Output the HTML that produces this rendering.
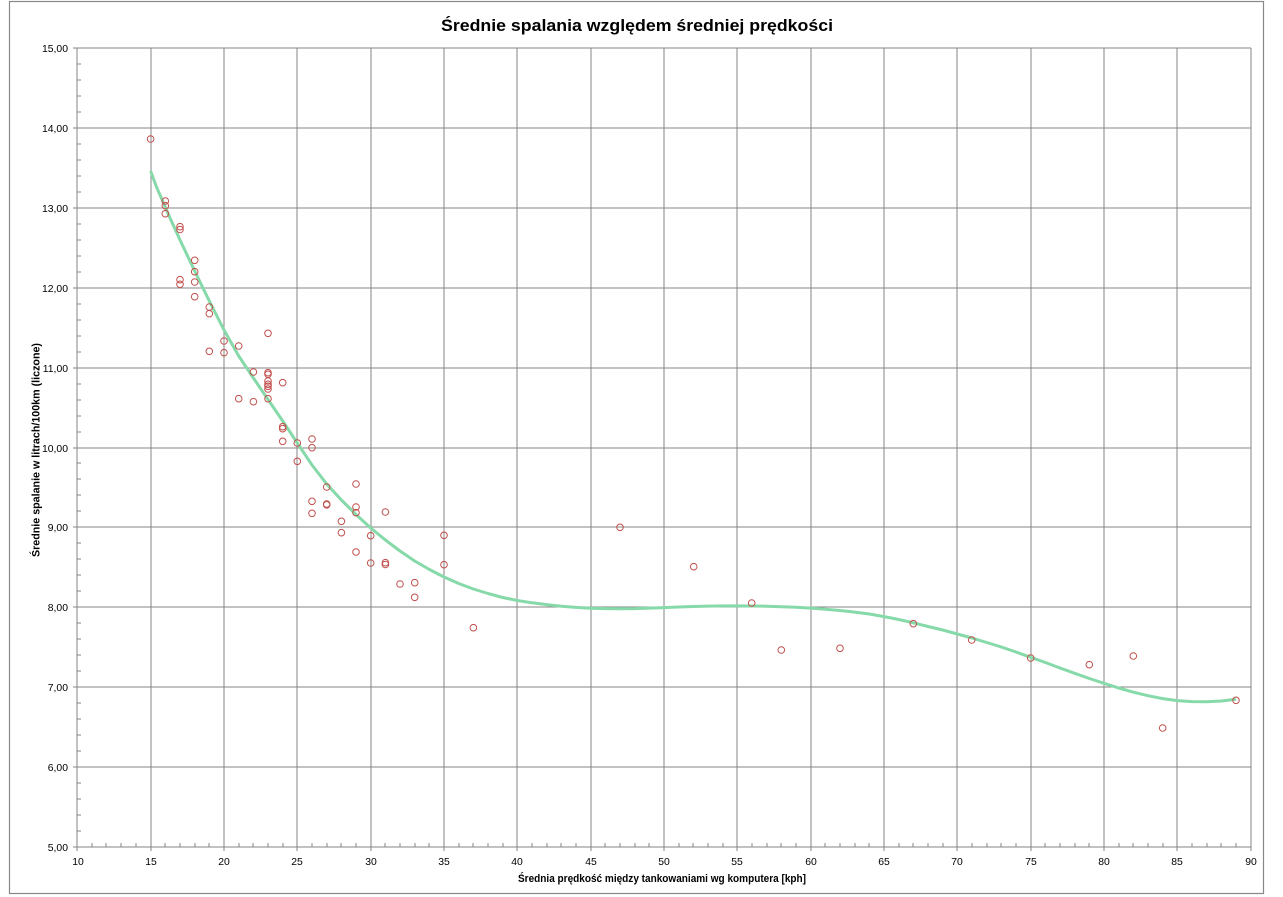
<!DOCTYPE html>
<html>
<head>
<meta charset="utf-8">
<style>
html,body{margin:0;padding:0;background:#fff;}
svg{display:block;}
text{font-family:"Liberation Sans","DejaVu Sans",sans-serif;fill:#000;}
</style>
</head>
<body>
<svg width="1283" height="897" viewBox="0 0 1283 897" xmlns="http://www.w3.org/2000/svg">
<defs>
<marker id="pt" markerUnits="userSpaceOnUse" markerWidth="10" markerHeight="10" refX="5" refY="5" overflow="visible">
<circle cx="5" cy="5" r="3.3" fill="none" stroke="#c0504d" stroke-width="1"/>
</marker>
</defs>
<rect x="0" y="0" width="1283" height="897" fill="#fff"/>
<rect x="9.5" y="1.5" width="1254" height="892" fill="none" stroke="#888" stroke-width="1.2"/>
<text x="637" y="31" font-size="17" font-weight="bold" text-anchor="middle" textLength="392" lengthAdjust="spacingAndGlyphs">Średnie spalania względem średniej prędkości</text>
<g stroke="#868686" stroke-width="1" shape-rendering="crispEdges" fill="none">
<path d="M77,48H1251M77,128H1251M77,208H1251M77,288H1251M77,368H1251M77,448H1251M77,527H1251M77,607H1251M77,687H1251M77,767H1251M73,847H1251"/>
<path d="M77,48V851M151,48V851M224,48V851M297,48V851M371,48V851M444,48V851M517,48V851M591,48V851M664,48V851M737,48V851M811,48V851M884,48V851M957,48V851M1031,48V851M1104,48V851M1177,48V851M1251,48V851"/>
<path d="M73,48h4M73,128h4M73,208h4M73,288h4M73,368h4M73,448h4M73,527h4M73,607h4M73,687h4M73,767h4"/>
<path d="M77,64h4M77,80h4M77,96h4M77,112h4M77,144h4M77,160h4M77,176h4M77,192h4M77,224h4M77,240h4M77,256h4M77,272h4M77,304h4M77,320h4M77,336h4M77,352h4M77,384h4M77,400h4M77,416h4M77,432h4M77,463h4M77,479h4M77,495h4M77,511h4M77,543h4M77,559h4M77,575h4M77,591h4M77,623h4M77,639h4M77,655h4M77,671h4M77,703h4M77,719h4M77,735h4M77,751h4M77,783h4M77,799h4M77,815h4M77,831h4"/>
<path d="M92,847v-4M106,847v-4M121,847v-4M136,847v-4M165,847v-4M180,847v-4M195,847v-4M209,847v-4M239,847v-4M253,847v-4M268,847v-4M283,847v-4M312,847v-4M327,847v-4M341,847v-4M356,847v-4M385,847v-4M400,847v-4M415,847v-4M429,847v-4M459,847v-4M473,847v-4M488,847v-4M503,847v-4M532,847v-4M547,847v-4M561,847v-4M576,847v-4M605,847v-4M620,847v-4M635,847v-4M649,847v-4M679,847v-4M693,847v-4M708,847v-4M723,847v-4M752,847v-4M767,847v-4M781,847v-4M796,847v-4M825,847v-4M840,847v-4M855,847v-4M869,847v-4M899,847v-4M913,847v-4M928,847v-4M943,847v-4M972,847v-4M987,847v-4M1001,847v-4M1016,847v-4M1045,847v-4M1060,847v-4M1075,847v-4M1089,847v-4M1119,847v-4M1133,847v-4M1148,847v-4M1163,847v-4M1192,847v-4M1207,847v-4M1221,847v-4M1236,847v-4"/>
</g>
<g font-size="10.4" text-anchor="end">
<text x="68" y="52">15,00</text>
<text x="68" y="132">14,00</text>
<text x="68" y="212">13,00</text>
<text x="68" y="292">12,00</text>
<text x="68" y="372">11,00</text>
<text x="68" y="452">10,00</text>
<text x="68" y="531">9,00</text>
<text x="68" y="611">8,00</text>
<text x="68" y="691">7,00</text>
<text x="68" y="771">6,00</text>
<text x="68" y="851">5,00</text>
</g>
<g font-size="10.4" text-anchor="middle">
<text x="78" y="865">10</text>
<text x="151" y="865">15</text>
<text x="224" y="865">20</text>
<text x="297" y="865">25</text>
<text x="371" y="865">30</text>
<text x="444" y="865">35</text>
<text x="517" y="865">40</text>
<text x="591" y="865">45</text>
<text x="664" y="865">50</text>
<text x="737" y="865">55</text>
<text x="811" y="865">60</text>
<text x="884" y="865">65</text>
<text x="957" y="865">70</text>
<text x="1031" y="865">75</text>
<text x="1104" y="865">80</text>
<text x="1177" y="865">85</text>
<text x="1251" y="865">90</text>
</g>
<text x="662" y="882" font-size="11" font-weight="bold" text-anchor="middle" textLength="288" lengthAdjust="spacingAndGlyphs">Średnia prędkość między tankowaniami wg komputera [kph]</text>
<text transform="translate(39.5,450) rotate(-90)" x="0" y="0" font-size="11" font-weight="bold" text-anchor="middle" textLength="214" lengthAdjust="spacingAndGlyphs">Średnie spalanie w litrach/100km (liczone)</text>
<polyline fill="none" stroke="#86d9a8" stroke-width="3" stroke-linejoin="round" points="150.6,171 156.7,187.5 165.3,207 170,218 180,240 194.7,271 209.3,301 224,330 238.7,356 253.4,378 268,399.5 282.7,421 297.3,443 312,465 326.7,484 341.4,500 356,514.5 370.7,528 385.4,540 400,551 414.7,561 429.4,569.5 444,577 458.7,583.5 473.4,589 488,593.5 502.7,597.5 517.4,600.5 532,602.8 546.7,604.6 561.4,606.2 576,607.4 590.7,608.2 605.4,608.6 620,608.7 634.7,608.6 649.4,608.1 664,607.6 678.7,607 693.4,606.5 708,606.1 722.7,605.9 737.4,605.9 752,606 766.7,606.2 781.4,606.7 796,607.3 810.7,608.1 825.4,609.2 840,610.5 854.7,612.1 869.4,614 884,616.6 898.7,619.5 913.4,622.8 928,626.5 942.7,630 957.4,634 972,638 986.7,642.5 1001.4,647 1016,652 1030.7,657.3 1045.4,662.5 1060,668 1074.7,673.3 1089.4,678.5 1104,683.3 1118.7,688 1133.4,692.2 1148,695.7 1162.7,698.6 1177.4,700.6 1192,701.6 1206.7,701.8 1221.4,701 1236,699.3"/>
<polyline fill="none" stroke="none" marker-start="url(#pt)" marker-mid="url(#pt)" marker-end="url(#pt)" points="150.6,139 165.3,201 165.3,205.7 165.3,213.7 180,226.7 180,229.5 180,279.7 180,284.3 194.7,260.3 194.7,271.7 194.7,282 194.7,296.7 209.3,307 209.3,313.7 209.3,351.3 224,341 224,352.7 238.7,346 238.7,398.7 253.4,372 253.4,401.7 268,333.3 268,372.7 268,374.3 268,381 268,384.3 268,386.3 268,389 268,398.7 282.7,382.7 282.7,426.7 282.7,428.7 282.7,441.3 297.3,443 297.3,461.3 312,439 312,447.7 312,501.3 312,513.3 326.7,487 326.7,504 326.7,504.8 341.4,521.3 341.4,532.7 356,484 356,507 356,512.7 356,552 370.7,535.7 370.7,563 385.4,512 385.4,562.7 385.4,564.5 400,584 414.7,582.7 414.7,597.3 444,535.3 444,564.7 473.4,627.7 620,527.3 693.7,566.7 751.7,603 781.3,650 840,648.3 913.3,623.7 971.7,640 1030.7,658 1089.3,664.7 1133.3,656 1162.7,728 1236,700.3"/>
</svg>
</body>
</html>
